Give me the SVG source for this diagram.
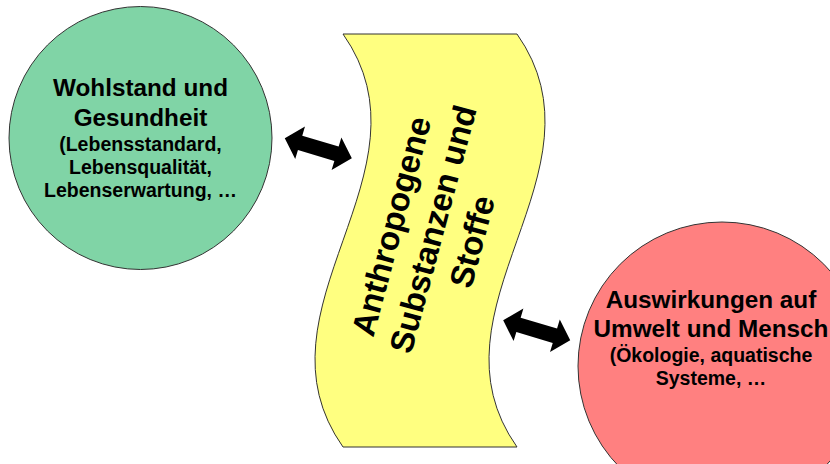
<svg xmlns="http://www.w3.org/2000/svg" width="830" height="464" viewBox="0 0 830 464">
<style>
.t{font-family:"Liberation Sans",Arial,sans-serif;font-weight:bold;fill:#000;text-anchor:middle}
.big{font-size:24.3px}
.small{font-size:19.5px}
.wave{font-size:33px}
.shape{stroke:#333;stroke-width:1}
</style>
<defs>
<path id="dblarrow" d="M-35,0 L-19,-17 L-19,-7.5 L19,-7.5 L19,-17 L35,0 L19,17 L19,7.5 L-19,7.5 L-19,17 Z" fill="#000"/>
</defs>
<rect width="830" height="464" fill="#fff"/>
<g id="node-wohlstand">
<circle class="shape" cx="140.5" cy="138" r="131.5" fill="#80D4A6"/>
<text class="t big" x="140.5" y="96">Wohlstand und</text>
<text class="t big" x="140.5" y="125.5">Gesundheit</text>
<text class="t small" x="140.5" y="151">(Lebensstandard,</text>
<text class="t small" x="140.5" y="174">Lebensqualität,</text>
<text class="t small" x="140.5" y="197">Lebenserwartung, …</text>
</g>
<g id="node-stoffe">
<path class="shape" d="M343,34 L517,34 C614,171.7 420,309.3 517,447 L343,447 C246,309.3 440,171.7 343,34 Z" fill="#FFFF80"/>
<g transform="translate(444,232) rotate(-75)">
<text class="t wave" x="-8" y="-41">Anthropogene</text>
<text class="t wave" x="0" y="0">Substanzen und</text>
<text class="t wave" x="-2" y="41">Stoffe</text>
</g>
</g>
<g id="node-auswirkungen">
<circle class="shape" cx="722" cy="366" r="144" fill="#FF8080"/>
<text class="t big" x="711" y="307.5">Auswirkungen auf</text>
<text class="t big" x="711" y="337">Umwelt und Mensch</text>
<text class="t small" x="711" y="362">(Ökologie, aquatische</text>
<text class="t small" x="711" y="385">Systeme, …</text>
</g>
<g id="connectors">
<use href="#dblarrow" transform="translate(318.3,148.3) rotate(16.7)"/>
<use href="#dblarrow" transform="translate(536.7,330.3) rotate(16.7)"/>
</g>
</svg>
